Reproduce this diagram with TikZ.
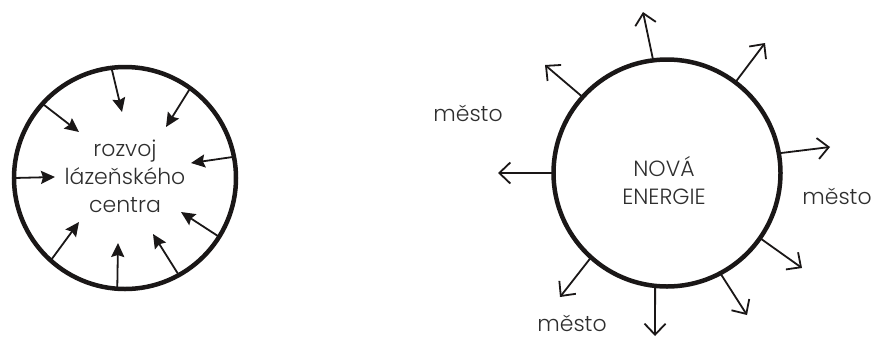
\documentclass[tikz,border=0pt]{standalone}
\usepackage{fontspec}
\setmainfont{Poppins}[UprightFont={* Light}]
\usepackage{xcolor}
\usetikzlibrary{arrows.meta}
\definecolor{inkblack}{HTML}{1A1717}
\definecolor{textgray}{HTML}{2E2E2E}

\begin{document}
\begin{tikzpicture}[
  x=1pt,y=-1pt,
  ring/.style={draw=inkblack,circle,line width=4.5pt,outer sep=0pt,inner sep=0pt},
  inarrow/.style={inkblack,line width=1.8pt,-{Stealth[length=14pt,width=13pt,inset=2pt]}},
  outarrow/.style={inkblack,line width=1.8pt,-{Straight Barb[length=11pt,width=21pt,line width=1.8pt]}},
  label/.style={font=\fontsize{22}{28}\selectfont,text=textgray,align=center,inner sep=0pt},
]
  \useasboundingbox (0,0) rectangle (874,338);

  % left circle, arrows pointing inwards
  \node[ring,minimum size=222pt] (spa) at (125,178) {};
  \node[label] (spatext) at (125,176) {rozvoj\\lázeňského\\centra};
  \foreach \ang/\tip in {97/{(122,112)},54/{(166,127)},11/{(191,163)},-32/{(181,212)},
      -61/{(153,234)},-94/{(118,243)},-132/{(79,222)},180/{(55,177)},138/{(79,132)}}
    \draw[inarrow] (spa.\ang) -- \tip;

  % right circle, arrows pointing outwards
  \node[ring,minimum size=227pt] (energy) at (667,173) {};
  \node[label] (energytext) at (664,181) {NOVÁ\\ENERGIE};
  \foreach \ang/\tip in {97/{(643,12)},53/{(765,43)},10/{(830,147)},-35/{(802,268)},
      -62/{(747,315)},-96/{(655,336)},-132/{(560,297)},180/{(498,173)},138/{(545,65)}}
    \draw[outarrow] (energy.\ang) -- \tip;

  \node[label] (city1) at (468,113) {město};
  \node[label] (city2) at (837,196) {město};
  \node[label] (city3) at (572,323) {město};
\end{tikzpicture}
\end{document}
